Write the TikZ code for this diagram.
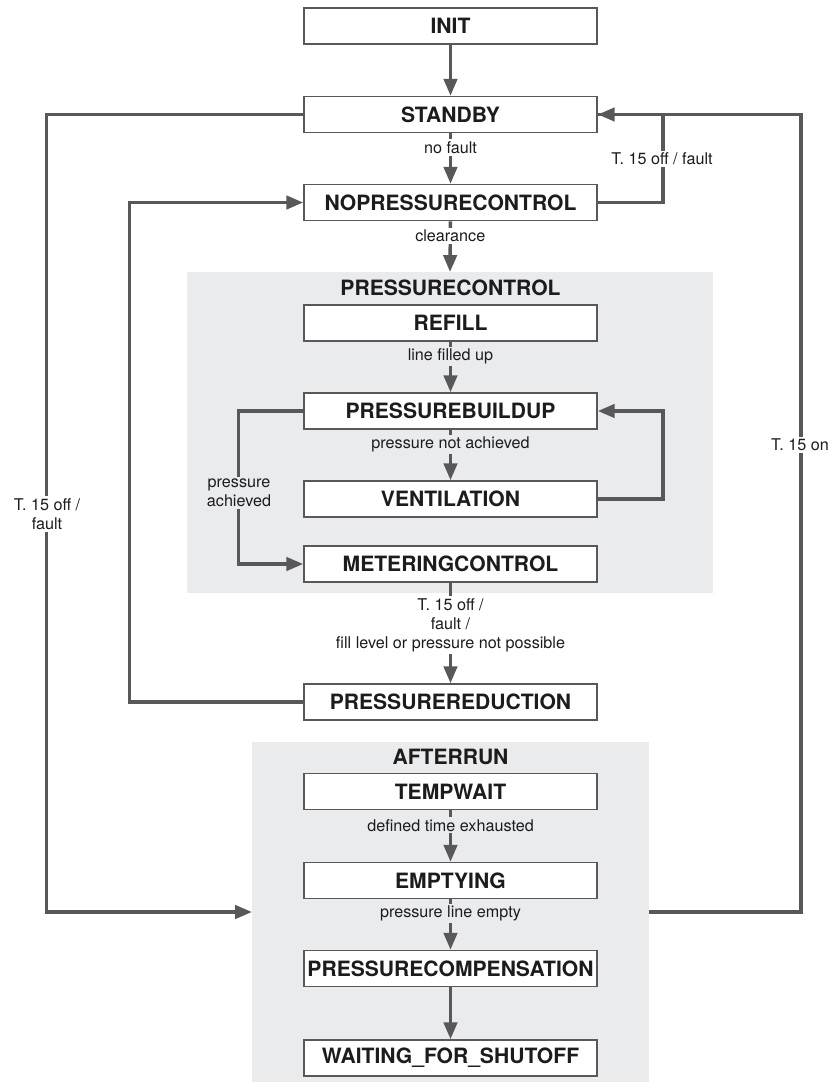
\documentclass[tikz,border=0pt]{standalone}
\usepackage{fontspec}
\setmainfont{TeX Gyre Heros}
\usepackage{tikz}
\usetikzlibrary{arrows.meta, positioning}
\usepackage{xcolor}
\definecolor{linegray}{RGB}{88,88,90}
\definecolor{panelgray}{RGB}{234,235,237}
\definecolor{textdark}{RGB}{28,28,28}

\tikzset{
  state/.style={draw=linegray, line width=1.1pt, fill=white, text=textdark,
    minimum width=7.325cm, minimum height=0.9cm, inner sep=0pt,
    font=\fontsize{15}{18}\selectfont\bfseries},
  panel/.style={fill=panelgray, inner sep=0pt, outer sep=0pt},
  title/.style={text=textdark, font=\fontsize{15}{18}\selectfont\bfseries},
  flow/.style={draw=linegray, line width=2.4pt, -{Triangle[length=12pt,width=9.5pt]}},
  wire/.style={draw=linegray, line width=2.4pt},
  lbl/.style={text=textdark, fill=white, inner sep=1.5pt, align=center,
    font=\fontsize{11.5}{13.5}\selectfont},
}

\begin{document}
\begin{tikzpicture}[x=0.025cm, y=-0.025cm]
  \useasboundingbox (0,0) rectangle (831,1082);
  % grouped states
  \node[panel, minimum width=13.15cm, minimum height=8.025cm] (pcpanel) at (450,432.5) {};
  \node[panel, minimum width=9.925cm, minimum height=8.5cm] (arpanel) at (450.5,912) {};
  \node[title] (pctitle) at (450.5,288) {PRESSURECONTROL};
  \node[title] (artitle) at (450.5,757) {AFTERRUN};

  % states
  \node[state] (init) at (450.5,26) {INIT};
  \node[state] (standby) at (450.5,114.5) {STANDBY};
  \node[state] (nopress) at (450.5,202.5) {NOPRESSURECONTROL};
  \node[state] (refill) at (450.5,323) {REFILL};
  \node[state] (buildup) at (450.5,411) {PRESSUREBUILDUP};
  \node[state] (vent) at (450.5,499) {VENTILATION};
  \node[state] (metering) at (450.5,564) {METERINGCONTROL};
  \node[state] (reduction) at (450.5,702) {PRESSUREREDUCTION};
  \node[state] (tempwait) at (450.5,791.5) {TEMPWAIT};
  \node[state] (emptying) at (450.5,880.5) {EMPTYING};
  \node[state] (compens) at (450.5,968.5) {PRESSURECOMPENSATION};
  \node[state] (waiting) at (450.5,1058) {WAITING\_FOR\_SHUTOFF};

  % main sequence
  \draw[flow] (init) -- (standby);
  \draw[flow] (standby) -- node[lbl, pos=0.28] (nofault) {no fault} (nopress);
  \draw[flow] (nopress) -- node[lbl, pos=0.29] (clear) {clearance} (pcpanel.north);
  \draw[flow] (refill) -- node[lbl, fill=panelgray, pos=0.29] (filled) {line filled up} (buildup);
  \draw[flow] (buildup) -- node[lbl, fill=panelgray, pos=0.29] (notach) {pressure not achieved} (vent);
  \draw[flow] (metering) -- node[lbl, pos=0.42] (tooff) {T. 15 off /\\fault /\\fill level or pressure not possible} (reduction);
  \draw[flow] (tempwait) -- node[lbl, fill=panelgray, pos=0.29] (exhaust) {defined time exhausted} (emptying);
  \draw[flow] (emptying) -- node[lbl, fill=panelgray, pos=0.28] (lineempty) {pressure line empty} (compens);
  \draw[flow] (compens) -- (waiting);

  % loops inside PRESSURECONTROL
  \draw[flow] (vent.east) -- ++(65,0) |- (buildup.east);
  \draw[flow] (buildup.west) -- ++(-65,0) |- (metering.west);
  \node[lbl, fill=panelgray] (achieved) at (239,493) {pressure\\achieved};

  % back to NOPRESSURECONTROL
  \draw[flow] (reduction.west) -- ++(-174,0) |- (nopress.west);

  % terminal 15 branches
  \draw[wire] (nopress.east) -- ++(65,0) |- (standby.east);
  \node[lbl] (offright) at (662,159) {T. 15 off / fault};
  \draw[flow] (standby.west) -- ++(-257,0) |- (arpanel.west);
  \node[lbl] (offleft) at (47,514) {T. 15 off /\\fault};
  \draw[flow] (arpanel.east) -- ++(152,0) |- (standby.east);
  \node[lbl] (on) at (800,445) {T. 15 on};
\end{tikzpicture}
\end{document}
